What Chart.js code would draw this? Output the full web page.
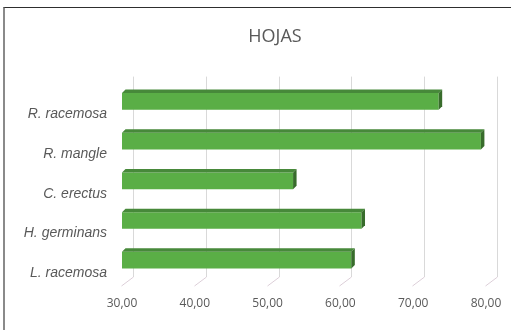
<!DOCTYPE html>
<html>
<head>
<meta charset="utf-8">
<script src="https://cdn.jsdelivr.net/npm/chart.js@4.4.1/dist/chart.umd.min.js"></script>
<style>
  html, body { margin: 0; padding: 0; background: #fff; }
  #wrap { position: relative; width: 511px; height: 330px; overflow: hidden; }
  #frame { position: absolute; left: 3px; top: 7px; width: 600px; height: 400px;
           border-top: 1px solid #2e2e2e; border-left: 2px solid #8a8a8a; }
  canvas { position: absolute; left: 0; top: 0; }
</style>
</head>
<body>
<div id="wrap">
  <div id="frame"></div>
  <canvas id="chart" width="511" height="330"></canvas>
</div>
<script>
// HOJAS - 3D clustered bar look
const species = ['R. racemosa', 'R. mangle', 'C. erectus', 'H. germinans', 'L. racemosa'];
const values = [73.5, 79.3, 53.5, 62.9, 61.5];
const xTicks = [30, 40, 50, 60, 70, 80];

const GREEN = '#5aae46';
const GREEN_TOP = '#47893a';
const GREEN_SIDE = '#386c2c';
const TEXT = '#595959';
const DEPTH = 3.5;

// back-wall gridlines + little diagonal floor ticks
const wallGrid = {
  id: 'wallGrid',
  beforeDatasetsDraw(chart) {
    const { ctx, chartArea, scales } = chart;
    const shift = 11;
    ctx.save();
    ctx.lineWidth = 1;
    xTicks.forEach((v) => {
      const x = Math.round(scales.x.getPixelForValue(v)) + 0.5;
      ctx.strokeStyle = '#d9d9d9';
      ctx.beginPath();
      ctx.moveTo(x + shift, chartArea.top - 5);
      ctx.lineTo(x + shift, chartArea.bottom - 3);
      ctx.stroke();
      ctx.strokeStyle = '#dccfd8';
      ctx.beginPath();
      ctx.moveTo(x + shift, chartArea.bottom - 3);
      ctx.lineTo(x - 1, chartArea.bottom + 6);
      ctx.stroke();
    });
    ctx.restore();
  },
};

// fake depth on each bar: top face and end face
const barDepth = {
  id: 'barDepth',
  afterDatasetsDraw(chart) {
    const { ctx } = chart;
    const meta = chart.getDatasetMeta(0);
    ctx.save();
    meta.data.forEach((bar) => {
      const { x, y, base, height } = bar.getProps(['x', 'y', 'base', 'height'], true);
      const top = y - height / 2;
      const bottom = y + height / 2;
      ctx.fillStyle = GREEN_TOP;
      ctx.beginPath();
      ctx.moveTo(base, top);
      ctx.lineTo(x, top);
      ctx.lineTo(x + DEPTH, top - DEPTH);
      ctx.lineTo(base + DEPTH, top - DEPTH);
      ctx.closePath();
      ctx.fill();
      ctx.fillStyle = GREEN_SIDE;
      ctx.beginPath();
      ctx.moveTo(x, top);
      ctx.lineTo(x + DEPTH, top - DEPTH);
      ctx.lineTo(x + DEPTH, bottom - DEPTH);
      ctx.lineTo(x, bottom);
      ctx.closePath();
      ctx.fill();
    });
    ctx.restore();
  },
};

// the Excel title sits centred on the (cropped) chart object, not the canvas
const titleShift = {
  id: 'titleShift',
  afterLayout(chart) {
    if (chart.titleBlock) {
      chart.titleBlock.left = 39;
      chart.titleBlock.right = 511;
    }
  },
};

new Chart(document.getElementById('chart'), {
  type: 'bar',
  data: {
    labels: species,
    datasets: [{
      label: 'HOJAS',
      data: values,
      base: 30,
      backgroundColor: GREEN,
      borderWidth: 0,
      barPercentage: 0.42,
      categoryPercentage: 1,
    }],
  },
  options: {
    indexAxis: 'y',
    responsive: false,
    animation: false,
    layout: { padding: { left: 0, right: 25, top: 0, bottom: 0 } },
    plugins: {
      legend: { display: false },
      tooltip: { enabled: false },
      title: {
        display: true,
        text: 'HOJAS',
        color: TEXT,
        font: { family: 'Open Sans', size: 18, weight: 'normal' },
        padding: { top: 26, bottom: 34 },
      },
    },
    scales: {
      x: {
        min: 30,
        max: 80,
        afterBuildTicks(scale) { scale.ticks = xTicks.map((v) => ({ value: v })); },
        afterFit(scale) {
          scale.height = 50;
          scale.paddingLeft = 0;
          scale.paddingRight = 0;
        },
        grid: { display: false, drawTicks: false },
        border: { display: false },
        ticks: {
          color: TEXT,
          padding: 16,
          maxRotation: 0,
          font: { family: 'Open Sans', size: 12 },
          callback: (v) => Number(v).toFixed(2).replace('.', ','),
        },
      },
      y: {
        grid: { display: false, drawTicks: false },
        border: { display: false },
        afterFit(scale) { scale.width = 122; },
        ticks: {
          color: TEXT,
          padding: 15,
          labelOffset: 13,
          font: { family: 'Liberation Sans', size: 14, style: 'italic' },
        },
      },
    },
  },
  plugins: [wallGrid, barDepth, titleShift],
});
</script>
</body>
</html>
